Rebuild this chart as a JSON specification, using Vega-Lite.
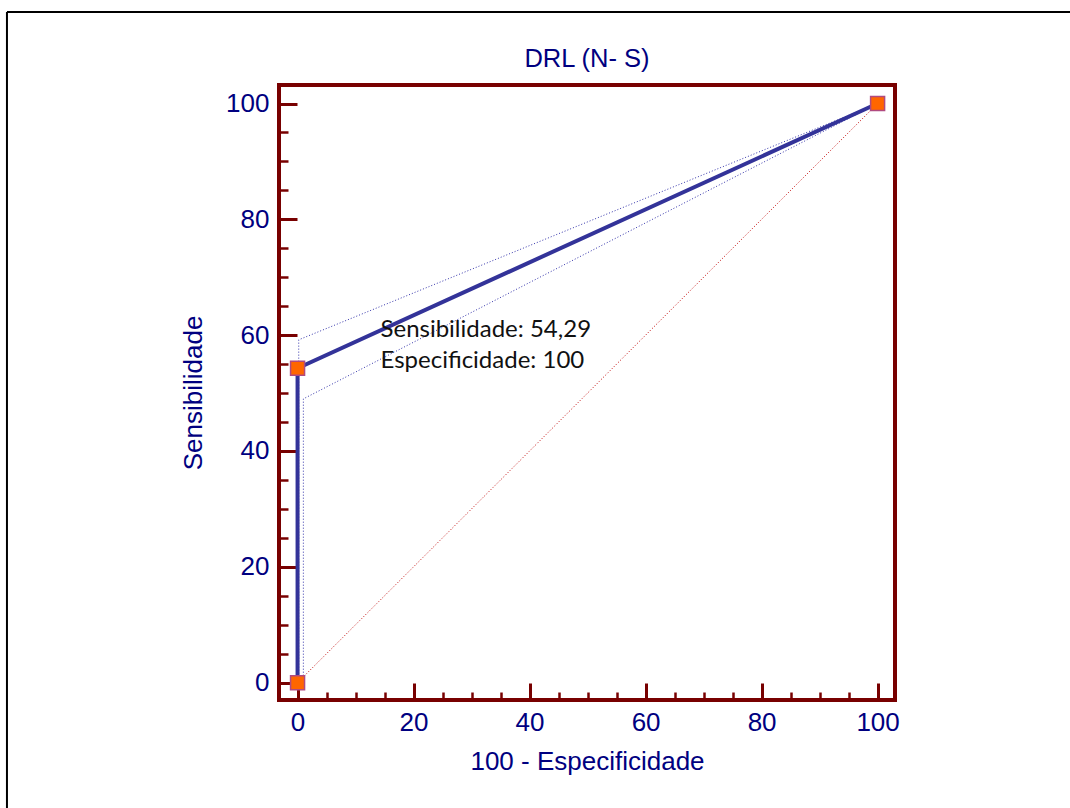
{
  "$schema": "https://vega.github.io/schema/vega-lite/v6.json",
  "autosize": {"type": "none"},
  "padding": {"left": 279, "top": 85, "right": 175, "bottom": 108},
  "width": 616,
  "height": 615,
  "background": "white",
  "title": {"text": "DRL (N- S)", "fontSize": 25.5, "font": "Liberation Sans", "fontWeight": "normal", "color": "#000080", "offset": -61, "anchor": "middle", "frame": "group"},
  "config": {
    "view": {"stroke": "#780000", "strokeWidth": 4},
    "axis": {
      "grid": false,
      "domain": false,
      "labelFont": "Liberation Sans",
      "labelFontSize": 26,
      "labelColor": "#000080",
      "titleFont": "Liberation Sans",
      "titleFontSize": 26,
      "titleFontWeight": "normal",
      "titleColor": "#000080",
      "tickColor": "#780000"
    }
  },
  "datasets": {
    "roc": [
      {"fpr": 0, "sens": 0, "ord": 1},
      {"fpr": 0, "sens": 54.29, "ord": 2},
      {"fpr": 100, "sens": 100, "ord": 3}
    ],
    "bands": [
      {"band": "upper", "fpr": 0.2, "sens": 0, "ord": 1},
      {"band": "upper", "fpr": 0.2, "sens": 59.2, "ord": 2},
      {"band": "upper", "fpr": 100, "sens": 100, "ord": 3},
      {"band": "lower", "fpr": 1, "sens": 1.2, "ord": 1},
      {"band": "lower", "fpr": 1, "sens": 49, "ord": 2},
      {"band": "lower", "fpr": 100, "sens": 100, "ord": 3}
    ],
    "diag": [
      {"fpr": 0, "sens": 0},
      {"fpr": 100, "sens": 100}
    ],
    "notes": [
      {"fpr": 14.3, "sens": 59.7, "label": "Sensibilidade: 54,29"},
      {"fpr": 14.3, "sens": 54.3, "label": "Especificidade: 100"}
    ],
    "frame": [
      {"fpr": -50.1, "fpr2": -50.1, "sens": 115.8, "sens2": -80},
      {"fpr": -50.1, "fpr2": 250, "sens": 115.8, "sens2": 115.8}
    ]
  },
  "encoding": {
    "x": {
      "field": "fpr", "type": "quantitative",
      "scale": {"domain": [-3.2, 103], "nice": false, "zero": false},
      "axis": {
        "title": "100 - Especificidade",
        "titlePadding": 13,
        "values": [0,5,10,15,20,25,30,35,40,45,50,55,60,65,70,75,80,85,90,95,100],
        "labelExpr": "datum.value % 20 === 0 ? datum.label : ''",
        "labelPadding": 26,
        "tickSize": {"condition": {"test": "datum.value % 20 === 0", "value": -17}, "value": -8},
        "tickWidth": {"condition": {"test": "datum.value % 20 === 0", "value": 3}, "value": 2.5}
      }
    },
    "y": {
      "field": "sens", "type": "quantitative",
      "scale": {"domain": [-3, 103.2], "nice": false, "zero": false},
      "axis": {
        "title": "Sensibilidade",
        "titlePadding": 19,
        "values": [0,5,10,15,20,25,30,35,40,45,50,55,60,65,70,75,80,85,90,95,100],
        "labelExpr": "datum.value % 20 === 0 ? datum.label : ''",
        "labelPadding": 28,
        "tickSize": {"condition": {"test": "datum.value % 20 === 0", "value": -18}, "value": -9},
        "tickWidth": {"condition": {"test": "datum.value % 20 === 0", "value": 3}, "value": 2.5}
      }
    }
  },
  "layer": [
    {
      "data": {"name": "diag"},
      "mark": {"type": "line", "color": "#c00000", "strokeWidth": 1, "strokeDash": [1, 2]},
      "encoding": {}
    },
    {
      "data": {"name": "bands"},
      "mark": {"type": "line", "color": "#3333aa", "strokeWidth": 1, "strokeDash": [1, 2]},
      "encoding": {"detail": {"field": "band"}, "order": {"field": "ord"}}
    },
    {
      "data": {"name": "roc"},
      "mark": {"type": "line", "color": "#333399", "strokeWidth": 4},
      "encoding": {"order": {"field": "ord"}}
    },
    {
      "data": {"name": "roc"},
      "mark": {"type": "square", "filled": true, "fill": "#ff6600", "stroke": "#b04a80", "strokeWidth": 1.5, "size": 196, "opacity": 1, "clip": false},
      "encoding": {}
    },
    {
      "data": {"name": "notes"},
      "mark": {"type": "text", "align": "left", "baseline": "alphabetic", "font": "Lato", "fontSize": 24, "color": "#111111"},
      "encoding": {"text": {"field": "label"}}
    },
    {
      "data": {"name": "frame"},
      "mark": {"type": "rule", "color": "black", "strokeWidth": 2, "clip": false},
      "encoding": {
        "x2": {"field": "fpr2"},
        "y2": {"field": "sens2"}
      }
    }
  ]
}
